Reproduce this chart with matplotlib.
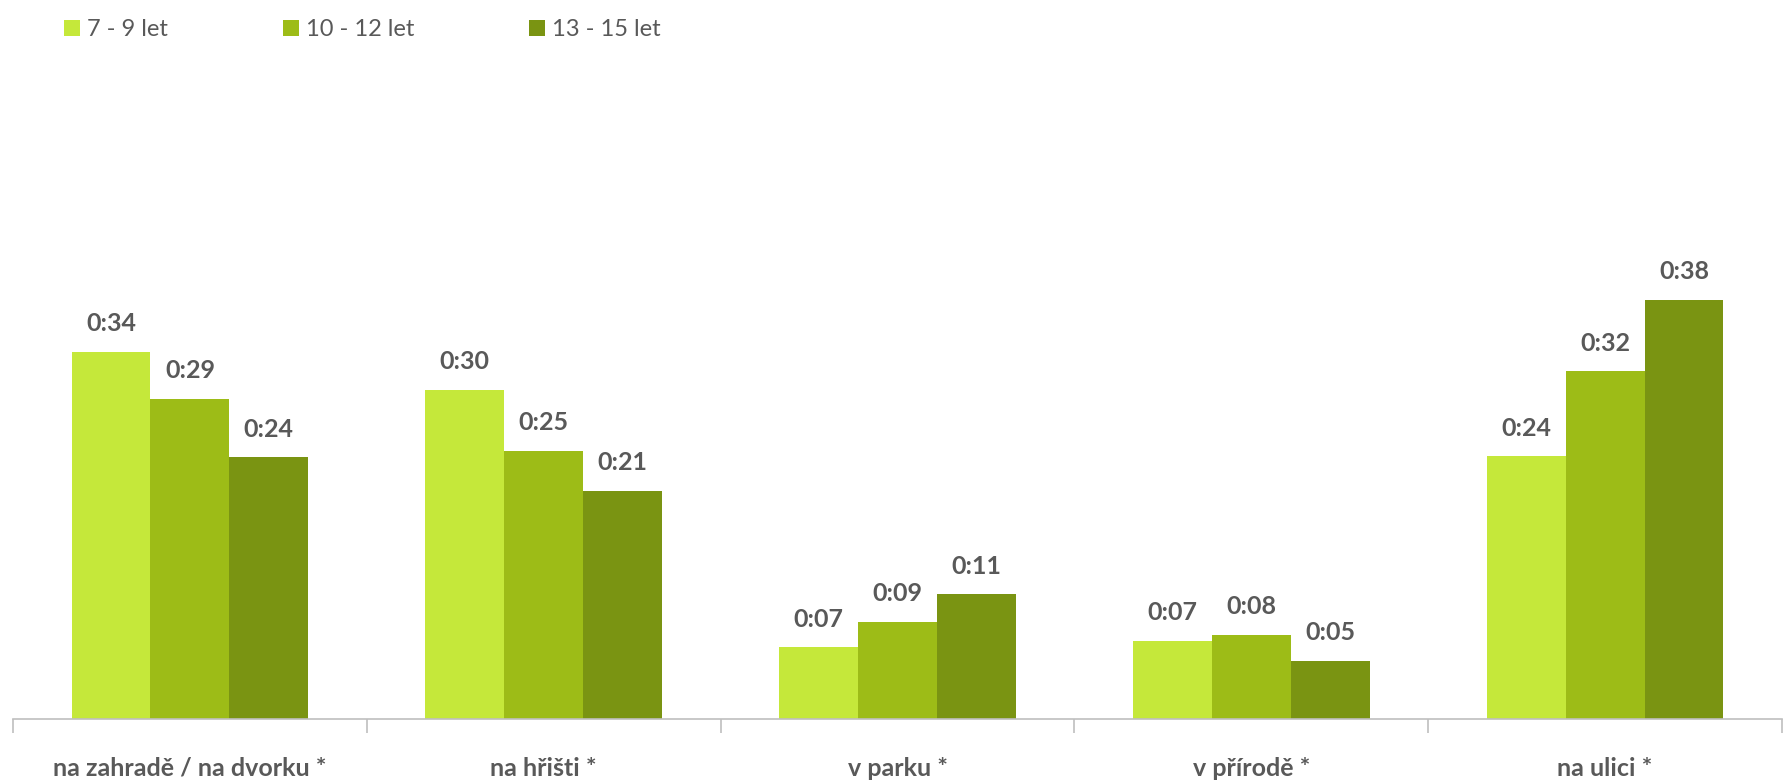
import matplotlib as mpl
import matplotlib.pyplot as plt
from matplotlib.patches import Patch
import numpy as np

mpl.rcParams['font.family'] = ['Lato', 'DejaVu Sans']

# data (minutes)
categories = ["na zahradě / na dvorku *", "na hřišti *", "v parku *", "v přírodě *", "na ulici *"]
series_names = ["7 - 9 let", "10 - 12 let", "13 - 15 let"]
age_7_9 = [33.3, 29.8, 6.5, 7.1, 23.8]
age_10_12 = [29.0, 24.3, 8.8, 7.6, 31.5]
age_13_15 = [23.7, 20.7, 11.3, 5.3, 38.0]
labels_7_9 = ["0:34", "0:30", "0:07", "0:07", "0:24"]
labels_10_12 = ["0:29", "0:25", "0:09", "0:08", "0:32"]
labels_13_15 = ["0:24", "0:21", "0:11", "0:05", "0:38"]

colors = ["#C5E83A", "#9DBC17", "#7A9412"]
text_col = "#595959"

fig = plt.figure(figsize=(17.85, 7.82), dpi=100)
ax = fig.add_axes([13 / 1785, 1 - 719 / 782, (1782 - 13) / 1785, (719 - 90) / 782])

x = np.arange(len(categories))
w = 0.223
series = [age_7_9, age_10_12, age_13_15]
series_labels = [labels_7_9, labels_10_12, labels_13_15]
for i in range(3):
    pos = x + (i - 1) * w
    ax.bar(pos, series[i], width=w, color=colors[i], edgecolor='none')
    for px, v, lab in zip(pos, series[i], series_labels[i]):
        ax.annotate(lab, (px, v), xytext=(0, 12), textcoords='offset points',
                    ha='center', va='bottom', fontsize=18, fontweight='bold',
                    color=text_col)

ax.set_xlim(-0.5, len(categories) - 0.5)
ax.set_ylim(0, 57)
ax.set_yticks([])
for s in ['top', 'right', 'left']:
    ax.spines[s].set_visible(False)
ax.spines['bottom'].set_color('#BFBFBF')
ax.spines['bottom'].set_linewidth(1.2)

ax.set_xticks(x)
ax.set_xticklabels(categories, fontsize=18, fontweight='bold', color=text_col)
ax.tick_params(axis='x', which='major', length=0, pad=27)
ax.set_xticks(np.arange(len(categories) + 1) - 0.5, minor=True)
ax.tick_params(axis='x', which='minor', length=10, color='#BFBFBF', width=1.2)

handles = [Patch(facecolor=c, edgecolor='none') for c in colors]
fig.legend(handles, series_names, loc='center left', bbox_to_anchor=(64 / 1785, 1 - 30 / 782),
           ncol=3, frameon=False, fontsize=17, labelcolor=text_col,
           handlelength=0.68, handleheight=0.68, handletextpad=0.3,
           columnspacing=4.85, borderaxespad=0, borderpad=0)

fig.savefig("out.png", dpi=100)
